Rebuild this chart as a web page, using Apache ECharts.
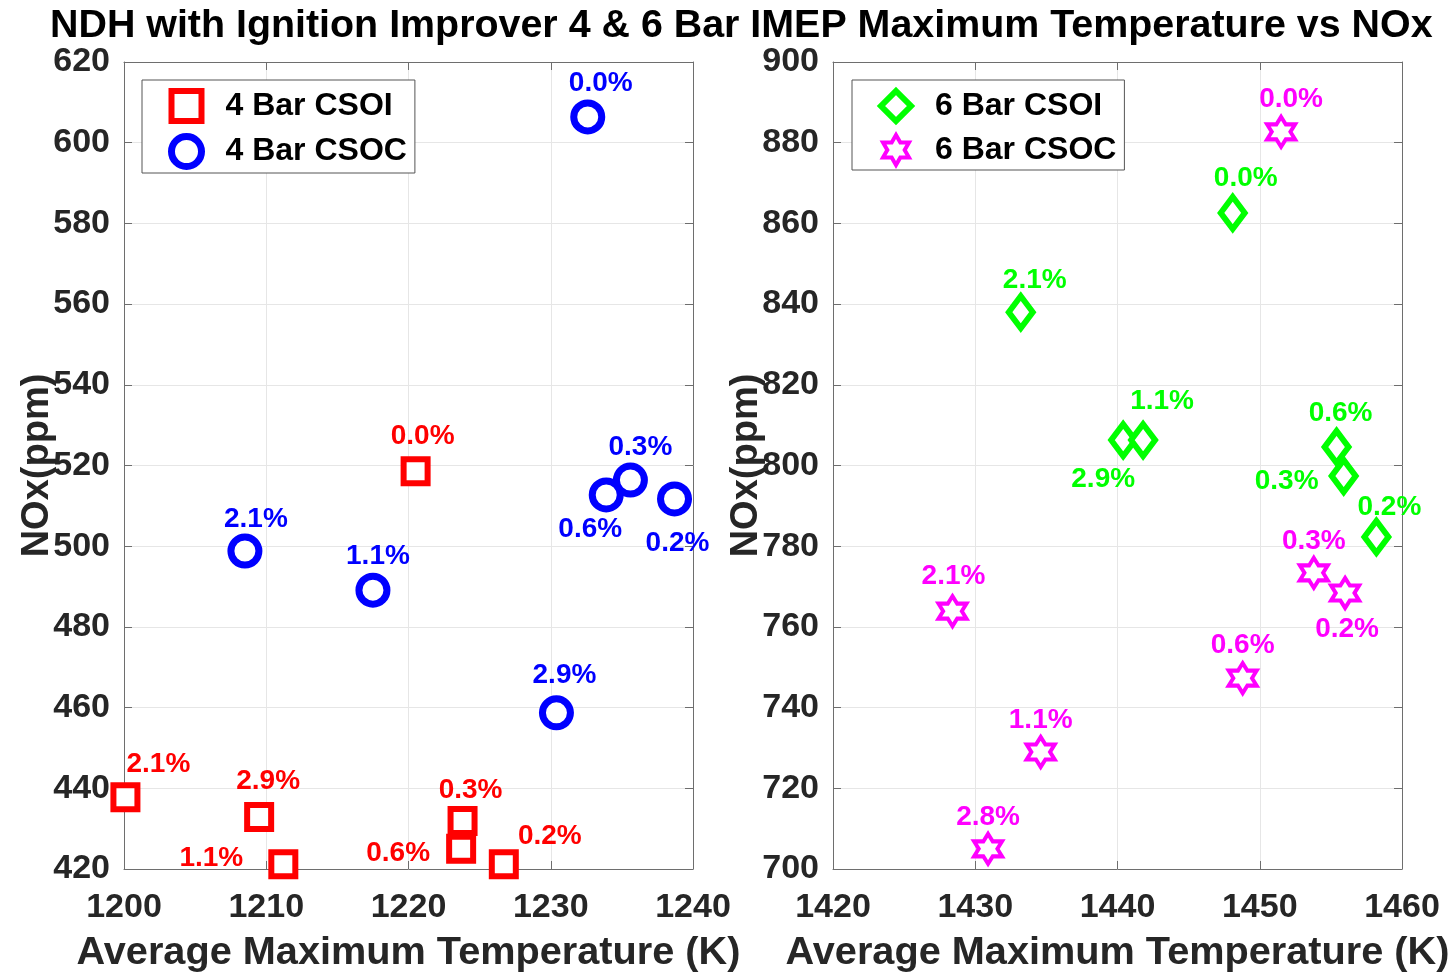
<!DOCTYPE html>
<html><head><meta charset="utf-8">
<script src="https://cdn.jsdelivr.net/npm/echarts@6/dist/echarts.min.js"></script>
<style>html,body{margin:0;padding:0;background:#fff}#c{width:1448px;height:976px}</style>
</head><body><div id="c"></div>
<script>
// ---- data ----
const csoi4Temp   = [1200.1, 1209.5, 1211.2, 1220.5, 1223.8, 1223.7, 1226.7];
const csoi4NOx    = [437.8, 432.9, 421.2, 518.6, 431.9, 425.0, 421.2];
const csoi4Labels = ['2.1%', '2.9%', '1.1%', '0.0%', '0.3%', '0.6%', '0.2%'];

const csoc4Temp   = [1232.6, 1208.5, 1217.5, 1235.6, 1233.9, 1238.7, 1230.4];
const csoc4NOx    = [606.4, 498.8, 489.1, 516.4, 512.7, 511.7, 458.7];
const csoc4Labels = ['0.0%', '2.1%', '1.1%', '0.3%', '0.6%', '0.2%', '2.9%'];

const csoi6Temp   = [1448.1, 1433.2, 1440.4, 1441.8, 1455.4, 1455.9, 1458.2];
const csoi6NOx    = [862.6, 838.0, 806.3, 806.3, 804.6, 797.4, 782.3];
const csoi6Labels = ['0.0%', '2.1%', '2.9%', '1.1%', '0.6%', '0.3%', '0.2%'];

const csoc6Temp   = [1451.5, 1428.4, 1453.8, 1456.0, 1448.8, 1434.6, 1430.9];
const csoc6NOx    = [882.7, 763.9, 773.4, 768.4, 747.3, 729.0, 705.0];
const csoc6Labels = ['0.0%', '2.1%', '0.3%', '0.2%', '0.6%', '1.1%', '2.8%'];

const xTicksLeft  = [1200, 1240, 10];
const yTicksLeft  = [420, 620, 20];
const xTicksRight = [1420, 1460, 10];
const yTicksRight = [700, 900, 20];

const titleText = 'NDH with Ignition Improver 4 & 6 Bar IMEP Maximum Temperature vs NOx';
const xName = 'Average Maximum Temperature (K)';
const yName = 'NOx(ppm)';

// ---- layout (label offsets in px relative to marker centre) ----
const off4i = [[33,-33],[9,-36],[-72,-6],[7,-35],[8,-31],[-63,4],[46,-28]];
const off4c = [[13,-34],[11,-32],[5,-34],[10,-33],[-16,34],[3,44],[8,-38]];
const off6i = [[13,-35],[14,-32],[-20,39],[19,-39],[4,-34],[-57,5],[13,-30]];
const off6c = [[10,-33],[1,-35],[0,-32],[2,36],[0,-33],[0,-32],[0,-32]];

const FONT = "'Liberation Sans', Arial, Helvetica, sans-serif";
const AXC = '#262626';
const LINEC = '#6e6e6e';

function pts(xs, ys, labels, offs) {
  return xs.map((x, i) => ({
    value: [x, ys[i]],
    label: { offset: offs[i], formatter: labels[i] }
  }));
}

function xAxisMain(gi, t) {
  return {
    type: 'value', gridIndex: gi, min: t[0], max: t[1], interval: t[2],
    name: xName, nameLocation: 'middle', nameGap: 64, nameMoveOverlap: false,
    nameTextStyle: { fontFamily: FONT, fontWeight: 'bold', fontSize: 39.7, color: AXC },
    axisLine: { show: true, onZero: false, lineStyle: { color: LINEC, width: 1 } },
    axisTick: { show: true, inside: true, length: 8, lineStyle: { color: LINEC } },
    axisLabel: { fontFamily: FONT, fontWeight: 'bold', fontSize: 34, color: AXC, margin: 22,
                 formatter: v => String(v) },
    splitLine: { show: true, lineStyle: { color: '#e6e6e6', width: 1 } }
  };
}
function xAxisTop(gi, t) {
  return {
    type: 'value', gridIndex: gi, position: 'top', min: t[0], max: t[1], interval: t[2],
    axisLine: { show: true, onZero: false, lineStyle: { color: LINEC, width: 1 } },
    axisTick: { show: true, inside: true, length: 8, lineStyle: { color: LINEC } },
    axisLabel: { show: false }, splitLine: { show: false }
  };
}
function yAxisMain(gi, t) {
  return {
    type: 'value', gridIndex: gi, min: t[0], max: t[1], interval: t[2],
    name: yName, nameLocation: 'middle', nameGap: 67, nameRotate: 90, nameMoveOverlap: false,
    nameTextStyle: { fontFamily: FONT, fontWeight: 'bold', fontSize: 38, color: AXC },
    axisLine: { show: true, onZero: false, lineStyle: { color: LINEC, width: 1 } },
    axisTick: { show: true, inside: true, length: 8, lineStyle: { color: LINEC } },
    axisLabel: { fontFamily: FONT, fontWeight: 'bold', fontSize: 34, color: AXC, margin: 14,
                 formatter: v => String(v) },
    splitLine: { show: true, lineStyle: { color: '#e6e6e6', width: 1 } }
  };
}
function yAxisRight(gi, t) {
  return {
    type: 'value', gridIndex: gi, position: 'right', min: t[0], max: t[1], interval: t[2],
    axisLine: { show: true, onZero: false, lineStyle: { color: LINEC, width: 1 } },
    axisTick: { show: true, inside: true, length: 8, lineStyle: { color: LINEC } },
    axisLabel: { show: false }, splitLine: { show: false }
  };
}

const hexagram = 'path://M100,0 L128.87,50 L186.6,50 L157.7,100 L186.6,150 L128.87,150 L100,200 L71.13,150 L13.4,150 L42.3,100 L13.4,50 L71.13,50 Z';

function labelStyle(color) {
  return {
    show: true, position: 'inside', color: color,
    fontFamily: FONT, fontWeight: 'bold', fontSize: 28,
    align: 'center', verticalAlign: 'middle'
  };
}

const legendBase = {
  orient: 'vertical', top: 80, itemWidth: 30, itemHeight: 30, itemGap: 9,
  padding: [8, 8, 3, 26], borderColor: '#555', borderWidth: 1, backgroundColor: '#fff',
  textStyle: { fontFamily: FONT, fontWeight: 'bold', fontSize: 32, color: '#000', padding: [0, 0, 0, 19] }
};

const option = {
  backgroundColor: '#fff',
  animation: false,
  title: {
    text: titleText, left: 50, top: 7, padding: 0,
    textStyle: { fontFamily: FONT, fontWeight: 'bold', fontSize: 39.4, color: '#000' }
  },
  legend: [
    Object.assign({}, legendBase, { left: 142, data: [
      { name: '4 Bar CSOI', itemStyle: { color: '#fff', borderColor: '#ff0000', borderWidth: 6 } },
      { name: '4 Bar CSOC', itemStyle: { color: '#fff', borderColor: '#0000ff', borderWidth: 7 } }
    ] }),
    Object.assign({}, legendBase, { left: 852, data: [
      { name: '6 Bar CSOI', itemStyle: { color: '#fff', borderColor: '#00ff00', borderWidth: 6 } },
      { name: '6 Bar CSOC', itemStyle: { color: '#fff', borderColor: '#ff00ff', borderWidth: 4 } }
    ] })
  ],
  grid: [
    { left: 124, top: 62, width: 569, height: 807, outerBoundsMode: 'none', containLabel: false },
    { left: 833, top: 62, width: 569, height: 807, outerBoundsMode: 'none', containLabel: false }
  ],
  xAxis: [xAxisMain(0, xTicksLeft), xAxisMain(1, xTicksRight), xAxisTop(0, xTicksLeft), xAxisTop(1, xTicksRight)],
  yAxis: [yAxisMain(0, yTicksLeft), yAxisMain(1, yTicksRight), yAxisRight(0, yTicksLeft), yAxisRight(1, yTicksRight)],
  series: [
    {
      name: '4 Bar CSOI', type: 'scatter', xAxisIndex: 0, yAxisIndex: 0,
      symbol: 'rect', symbolSize: 24,
      itemStyle: { color: '#fff', borderColor: '#ff0000', borderWidth: 6, opacity: 1 },
      label: labelStyle('#ff0000'),
      data: pts(csoi4Temp, csoi4NOx, csoi4Labels, off4i)
    },
    {
      name: '4 Bar CSOC', type: 'scatter', xAxisIndex: 0, yAxisIndex: 0,
      symbol: 'circle', symbolSize: 28,
      itemStyle: { color: '#fff', borderColor: '#0000ff', borderWidth: 7, opacity: 1 },
      label: labelStyle('#0000ff'),
      data: pts(csoc4Temp, csoc4NOx, csoc4Labels, off4c)
    },
    {
      name: '6 Bar CSOI', type: 'scatter', xAxisIndex: 1, yAxisIndex: 1,
      symbol: 'diamond', symbolSize: [24, 32],
      itemStyle: { color: '#fff', borderColor: '#00ff00', borderWidth: 6, opacity: 1 },
      label: labelStyle('#00ff00'),
      data: pts(csoi6Temp, csoi6NOx, csoi6Labels, off6i)
    },
    {
      name: '6 Bar CSOC', type: 'scatter', xAxisIndex: 1, yAxisIndex: 1,
      symbol: hexagram, symbolSize: [28, 30], symbolKeepAspect: false,
      itemStyle: { color: '#fff', borderColor: '#ff00ff', borderWidth: 4, opacity: 1 },
      label: labelStyle('#ff00ff'),
      data: pts(csoc6Temp, csoc6NOx, csoc6Labels, off6c)
    }
  ]
};

const chart = echarts.init(document.getElementById('c'), null, { renderer: 'canvas' });
chart.setOption(option);
</script>
</body></html>
